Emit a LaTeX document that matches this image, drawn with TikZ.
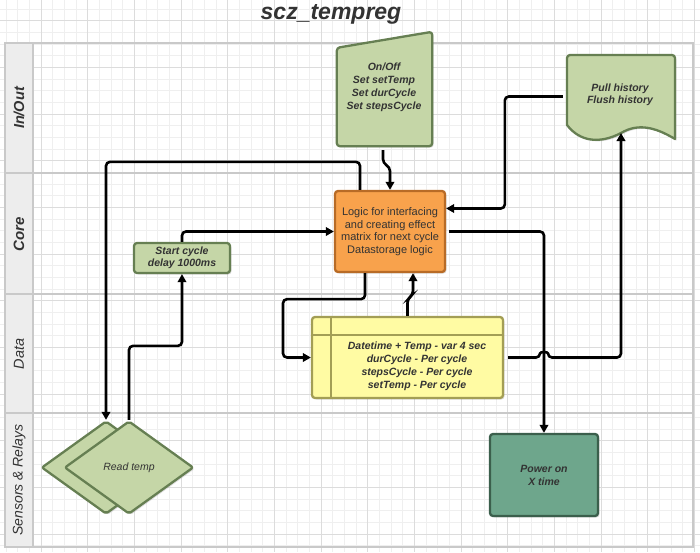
\documentclass[tikz,border=0pt]{standalone}
\usepackage{fontspec}
\setmainfont{Liberation Sans}
\usetikzlibrary{shapes.geometric,arrows.meta,shadows,calc}
\definecolor{greenF}{HTML}{C5D6A7}
\definecolor{greenB}{HTML}{667F52}
\definecolor{orangeF}{HTML}{F8A24C}
\definecolor{orangeB}{HTML}{B86B26}
\definecolor{yellowF}{HTML}{FFFBA3}
\definecolor{yellowB}{HTML}{A39E55}
\definecolor{tealF}{HTML}{6EA68C}
\definecolor{tealB}{HTML}{3B5F4C}
\definecolor{poolC}{HTML}{C9C9C9}
\definecolor{hdrC}{HTML}{EDEDED}
\definecolor{txtC}{HTML}{333333}
\definecolor{gridMinor}{HTML}{EFEFEF}
\definecolor{gridMajor}{HTML}{DCDCDC}
\tikzset{
  shad/.style={drop shadow={opacity=0.25,shadow xshift=1.5pt,shadow yshift=-1.5pt}},
  gtext/.style={font=\fontsize{10.5}{13}\selectfont\bfseries\itshape,text=txtC,align=center,inner sep=0},
  gshape/.style={draw=greenB,fill=greenF,line width=2.3pt,line join=round,shad},
  gbox/.style={gshape,rounded corners=3pt,minimum width=96pt,minimum height=30pt,inner sep=0,
    align=center,font=\fontsize{10.5}{12}\selectfont\bfseries\itshape,text=txtC},
  gdia/.style={diamond,gshape,rounded corners=2pt,minimum width=129pt,minimum height=93pt,inner sep=0},
  corebox/.style={draw=orangeB,fill=orangeF,line width=2.3pt,rounded corners=3pt,minimum width=110pt,
    minimum height=81pt,inner sep=0,align=center,font=\fontsize{11}{12.7}\selectfont,text=txtC,shad},
  dstore/.style={draw=yellowB,fill=yellowF,line width=2.3pt,rounded corners=3pt,minimum width=191pt,
    minimum height=81pt,inner sep=0,shad},
  pbox/.style={draw=tealB,fill=tealF,line width=2.3pt,rounded corners=3pt,minimum width=108pt,
    minimum height=82pt,inner sep=0,align=center,font=\fontsize{10.5}{13}\selectfont\bfseries\itshape,
    text=black!80,shad},
  conn/.style={draw=black,line width=2.6pt,rounded corners=4pt,-{Triangle[length=8pt,width=8.5pt]}},
  lanelbl/.style={rotate=90,text=txtC,inner sep=0},
  poolline/.style={draw=poolC,line width=2pt},
}
\begin{document}
\begin{tikzpicture}[x=1pt,y=-1pt]
\useasboundingbox (0,0) rectangle (700,552);
\fill[white] (0,0) rectangle (700,552);
% grid
\foreach \k in {0,...,61} {\draw[gridMinor,line width=0.6pt] ({-5.7+11.667*\k},0) -- ++(0,552);}
\foreach \k in {0,...,48} {\draw[gridMinor,line width=0.6pt] (0,{9+11.667*\k}) -- ++(700,0);}
\foreach \k in {0,...,15} {\draw[gridMajor,line width=0.6pt] ({-5.7+46.667*\k},0) -- ++(0,552);}
\foreach \k in {0,...,12} {\draw[gridMajor,line width=0.6pt] (0,{20.67+46.667*\k}) -- ++(700,0);}
% title
\node[text=txtC,inner sep=0] (title) at (331,14) {\fontsize{23}{27}\selectfont\bfseries\itshape scz\_tempreg};
% pool
\fill[hdrC] (5,43) rectangle (33,547);
\draw[poolline] (5,43) rectangle (693,547);
\draw[poolline] (33,43) -- (33,547);
\foreach \yy in {173,294,413} {\draw[poolline] (5,\yy) -- (693,\yy);}
\node[lanelbl,font=\fontsize{14.5}{16}\selectfont\bfseries\itshape] (l1) at (19,108) {In/Out};
\node[lanelbl,font=\fontsize{15}{16}\selectfont\bfseries\itshape] (l2) at (19,234) {Core};
\node[lanelbl,font=\fontsize{14.5}{16}\selectfont\itshape] (l3) at (19,354) {Data};
\node[lanelbl,font=\fontsize{14}{16}\selectfont\itshape] (l4) at (19,480) {Sensors \& Relays};
% manual input
\node[inner sep=0,minimum width=95pt,minimum height=114pt] (mi) at (384.5,89) {};
\draw[gshape,rounded corners=3pt] (mi.south west) -- ([yshift=-16pt]mi.north west) -- (mi.north east) -- (mi.south east) -- cycle;
\node[gtext] (mitext) at (384,87.5) {On/Off\\Set setTemp\\Set durCycle\\Set stepsCycle};
% document
\node[inner sep=0,minimum width=108pt,minimum height=83pt] (doc) at (621,96.5) {};
\draw[gshape] (567,125) [rounded corners=3pt] -- (567,55) -- (675,55) -- (675,70) [sharp corners] -- (675,139)
  .. controls (655,127) and (638,123) .. (621,133) .. controls (600,144) and (580,142) .. (567,125) -- cycle;
\coordinate (docw) at (621,133);
\node[gtext,font=\fontsize{10.5}{12}\selectfont\bfseries\itshape] (doctext) at (620,95) {Pull history\\Flush history};
% core
\node[corebox] (core) at (390,231.5) {Logic for interfacing\\and creating effect\\matrix for next cycle\\Datastorage logic};
% start cycle
\node[gbox] (start) at (182,258) {Start cycle\\delay 1000ms};
% data store
\node[dstore] (ds) at (407.5,357.5) {};
\draw[draw=yellowB,line width=2.3pt] ($(ds.north west)+(20,0)$) -- ($(ds.south west)+(20,0)$);
\draw[draw=yellowB,line width=2.3pt] ($(ds.north west)+(0,19)$) -- ($(ds.north east)+(0,19)$);
\node[gtext] (dstext) at (417,366.5) {Datetime + Temp - var 4 sec\\durCycle - Per cycle\\stepsCycle - Per cycle\\setTemp - Per cycle};
% read temp
\node[gdia] (rtback) at (106,467.5) {};
\node[gdia,font=\fontsize{10.5}{12}\selectfont\itshape,text=txtC] (rt) at (129,467.5) {Read temp};
% power
\node[pbox] (power) at (544,475) {Power on\\X time};
% connectors
\draw[conn] ([xshift=-1.5pt,yshift=-4pt]mi.south) -- ++(0,13) -- ++(7,4) -- (core.north);
\draw[conn] ([xshift=-30pt]core.north) -- ++(0,-28) -| (rtback.north);
\draw[conn] (rt.north) -- ++(0,-74) -| (start.south);
\draw[conn] (start.north) |- (core.west);
\draw[conn] ([xshift=-25pt]core.south) -- ++(0,26) -- ++(-82,0) |- (ds.west);
\draw[conn] (ds.north) -- ++(0,-17) -- ++(5.5,-4) -- ([xshift=23pt]core.south);
\draw[conn] ([xshift=-4pt]doc.west) -- ++(-58,0) |- ([yshift=23pt]core.east);
\draw[conn] ([xshift=3pt]core.east) -| (power.north);
\draw[conn] ([xshift=4pt]ds.east) -- (540,357.5) .. controls (540,351.5) and (548,351.5) .. (548,357.5) -| (docw);
\end{tikzpicture}
\end{document}
